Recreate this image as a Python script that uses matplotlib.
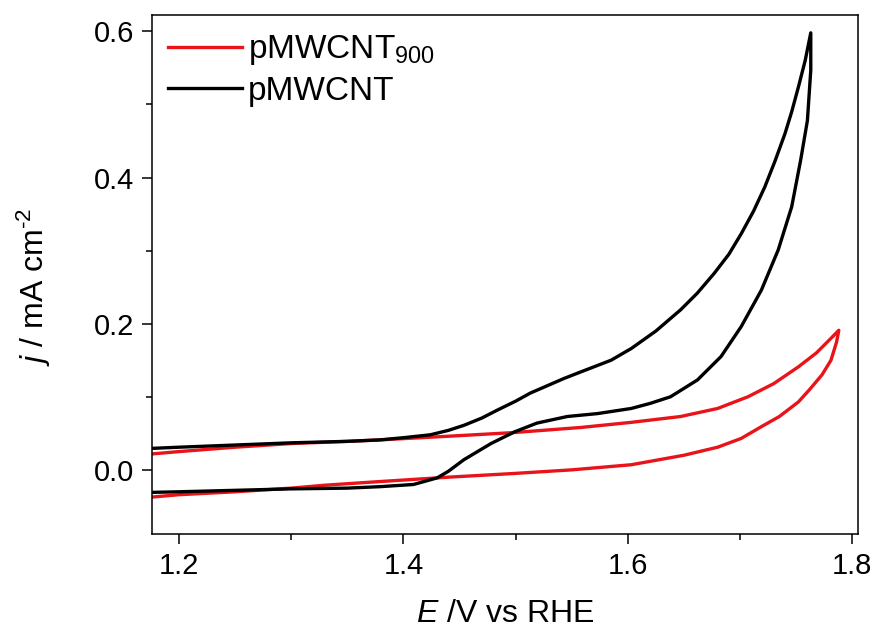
import numpy as np
import matplotlib
matplotlib.use("Agg")
import matplotlib.pyplot as plt
from matplotlib.ticker import MultipleLocator

plt.rcParams['font.family'] = ['Liberation Sans', 'DejaVu Sans']
plt.rcParams['mathtext.fontset'] = 'custom'
plt.rcParams['mathtext.rm'] = 'Liberation Sans'
plt.rcParams['mathtext.it'] = 'Liberation Sans:italic'

# pMWCNT (black) - forward scan then reverse scan
e_black = [1.17, 1.20, 1.25, 1.30, 1.35, 1.379, 1.40, 1.424, 1.44, 1.454, 1.47, 1.484, 1.50,
           1.513, 1.528, 1.543, 1.558, 1.585, 1.603, 1.625, 1.647, 1.662, 1.677, 1.690, 1.701,
           1.712, 1.722, 1.731, 1.740, 1.746, 1.752, 1.758, 1.763,
           1.763, 1.760, 1.754, 1.746, 1.734, 1.719, 1.701, 1.683, 1.662, 1.638, 1.620, 1.603,
           1.573, 1.546, 1.519, 1.499, 1.478, 1.454, 1.440, 1.430, 1.409, 1.379, 1.35, 1.30,
           1.25, 1.20, 1.17]
j_black = [0.029, 0.031, 0.034, 0.037, 0.039, 0.041, 0.044, 0.048, 0.054, 0.061, 0.071, 0.082, 0.094,
           0.105, 0.115, 0.125, 0.134, 0.150, 0.166, 0.190, 0.219, 0.242, 0.269, 0.295, 0.323,
           0.354, 0.387, 0.422, 0.460, 0.490, 0.524, 0.560, 0.598,
           0.547, 0.478, 0.424, 0.360, 0.301, 0.246, 0.196, 0.155, 0.123, 0.100, 0.091, 0.084,
           0.077, 0.073, 0.064, 0.052, 0.036, 0.014, -0.002, -0.011, -0.020, -0.023, -0.025, -0.026,
           -0.028, -0.030, -0.031]

# pMWCNT900 (red)
e_red = [1.17, 1.20, 1.25, 1.30, 1.35, 1.379, 1.44, 1.498, 1.558, 1.603, 1.647, 1.68, 1.707,
         1.730, 1.752, 1.768, 1.781, 1.788,
         1.786, 1.781, 1.773, 1.762, 1.752, 1.735, 1.720, 1.701, 1.68, 1.65, 1.603, 1.55,
         1.498, 1.44, 1.379, 1.33, 1.30, 1.25, 1.20, 1.17]
j_red = [0.021, 0.025, 0.031, 0.036, 0.039, 0.041, 0.046, 0.051, 0.058, 0.065, 0.073, 0.084, 0.100,
         0.118, 0.141, 0.160, 0.180, 0.191,
         0.175, 0.150, 0.130, 0.110, 0.093, 0.073, 0.060, 0.043, 0.031, 0.020, 0.007, 0.000,
         -0.005, -0.010, -0.016, -0.021, -0.025, -0.030, -0.034, -0.038]

fig = plt.figure(figsize=(8.79, 6.37), dpi=100)
ax = fig.add_axes([0.173, 0.162, 0.803, 0.814])

ax.plot(e_red, j_red, color='#e8141a', lw=2.4, label='pMWCNT$_{900}$', solid_joinstyle='round')
ax.plot(e_black, j_black, color='black', lw=2.4, label='pMWCNT', solid_joinstyle='round')

ax.set_xlim(1.176, 1.805)
ax.set_ylim(-0.0875, 0.622)
ax.xaxis.set_major_locator(MultipleLocator(0.2))
ax.xaxis.set_minor_locator(MultipleLocator(0.1))
ax.yaxis.set_major_locator(MultipleLocator(0.2))
ax.yaxis.set_minor_locator(MultipleLocator(0.1))
ax.xaxis.set_major_formatter(plt.FormatStrFormatter('%.1f'))
ax.yaxis.set_major_formatter(plt.FormatStrFormatter('%.1f'))
ax.tick_params(which='major', direction='out', length=7, width=1.1, labelsize=21, pad=6)
ax.tick_params(which='minor', direction='out', length=4, width=1.1)
ax.tick_params(top=False, right=False)
for s in ax.spines.values():
    s.set_linewidth(1.1)

ax.set_xlabel('$E$ /V vs RHE', fontsize=23, labelpad=14)
ax.set_ylabel('$j$ / mA cm$^{\\text{-2}}$', fontsize=23)
ax.yaxis.set_label_coords(-0.14, 0.476)

ax.legend(loc='upper left', bbox_to_anchor=(0.023, 0.965), frameon=False, fontsize=24,
          handlelength=2.2, handletextpad=0.2, borderpad=0, borderaxespad=0, labelspacing=0.25)

fig.savefig('out.png', dpi=100)
